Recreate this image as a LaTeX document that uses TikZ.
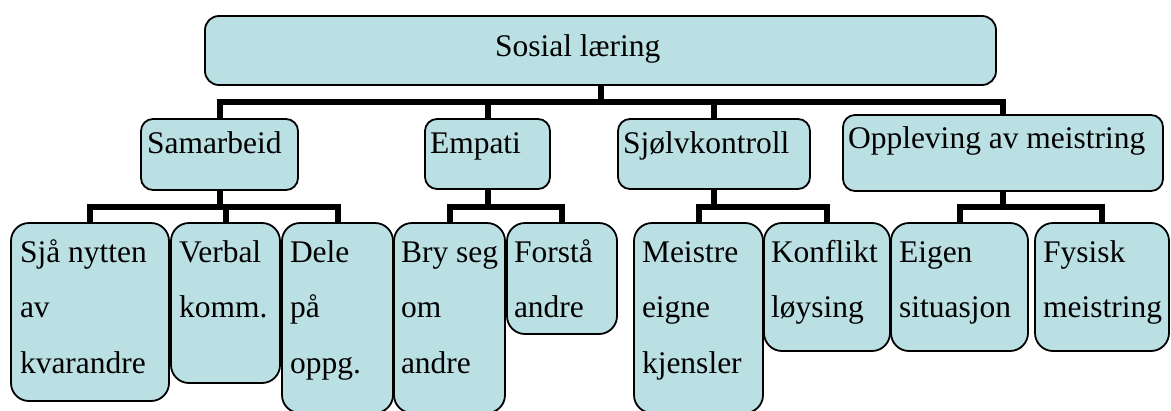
\documentclass[tikz,border=0pt]{standalone}
\usepackage{fontspec}
\setmainfont{Liberation Serif}
\definecolor{boxfill}{RGB}{187,224,227}
\newcommand\mlines[1]{\vtop{\baselineskip=55.5pt\lineskiplimit=-100pt #1}}
\tikzset{
  box/.style={draw=black, line width=1.8pt, fill=boxfill, rounded corners=#1,
    rectangle, anchor=north west, inner sep=0pt, outer sep=0pt},
  box/.default=12pt,
  txt/.style={anchor=base west, inner sep=0pt, outer sep=0pt, font=\fontsize{31.5}{55.5}\selectfont},
  link/.style={line width=6pt, draw=black}
}
\begin{document}
\begin{tikzpicture}[x=1pt,y=-1pt]
\useasboundingbox (0,0) rectangle (1171,410);
% bar levels
\coordinate (bar0) at (0,102);
\coordinate (bar1) at (0,207);
% boxes
\path
  (205,16)  node[box=14pt, minimum width=791pt, minimum height=69pt] (top) {}
  (141,119) node[box, minimum width=157pt, minimum height=71pt] (sam) {}
  (425,119) node[box, minimum width=125pt, minimum height=70pt] (emp) {}
  (618,119) node[box, minimum width=192pt, minimum height=70pt] (sjk) {}
  (843,115) node[box, minimum width=320pt, minimum height=76pt] (opp) {};
\path
  (11,223)   node[box=18pt, minimum width=158pt, minimum height=178pt] (sja) {}
  (171,223)  node[box=18pt, minimum width=109pt, minimum height=160pt] (ver) {}
  (282,223)  node[box=18pt, minimum width=111pt, minimum height=190pt] (del) {}
  (394,223)  node[box=18pt, minimum width=111pt, minimum height=190pt] (bry) {}
  (507,223)  node[box=18pt, minimum width=110pt, minimum height=111pt] (for) {}
  (634,223)  node[box=18pt, minimum width=129pt, minimum height=190pt] (mei) {}
  (764,223)  node[box=18pt, minimum width=126pt, minimum height=128pt] (kon) {}
  (891,223)  node[box=18pt, minimum width=137pt, minimum height=128pt] (eig) {}
  (1035,223) node[box=18pt, minimum width=134pt, minimum height=128pt] (fys) {};
% connectors
\draw[link] (top.south) -- (top.south |- bar0) -| (sam.north);
\draw[link] (top.south) -- (top.south |- bar0) -| (emp.north);
\draw[link] (top.south) -- (top.south |- bar0) -| (sjk.north);
\draw[link] (top.south) -- (top.south |- bar0) -| (opp.north);
\draw[link] (sam.south) -- (sam.south |- bar1) -| (sja.north);
\draw[link] (sam.south) -- (sam.south |- bar1) -| (ver.north);
\draw[link] (sam.south) -- (sam.south |- bar1) -| (del.north);
\draw[link] (emp.south) -- (emp.south |- bar1) -| (bry.north);
\draw[link] (emp.south) -- (emp.south |- bar1) -| (for.north);
\draw[link] (sjk.south) -- (sjk.south |- bar1) -| (mei.north);
\draw[link] (sjk.south) -- (sjk.south |- bar1) -| (kon.north);
\draw[link] (opp.south) -- (opp.south |- bar1) -| (eig.north);
\draw[link] (opp.south) -- (opp.south |- bar1) -| (fys.north);
% texts
\node[txt] (t-top) at (495,56) {Sosial læring};
\node[txt] (t-sam) at (147,153) {Samarbeid};
\node[txt] (t-emp) at (430,153) {Empati};
\node[txt] (t-sjk) at (623,153) {Sjølvkontroll};
\node[txt] (t-opp) at (848,148) {Oppleving av meistring};
\node[txt] (t-sja) at (20,262)  {\mlines{\hbox{Sjå nytten}\hbox{av}\hbox{kvarandre}}};
\node[txt] (t-ver) at (179,262) {\mlines{\hbox{Verbal}\hbox{komm.}}};
\node[txt] (t-del) at (290,262) {\mlines{\hbox{Dele}\hbox{på}\hbox{oppg.}}};
\node[txt] (t-bry) at (401,262) {\mlines{\hbox{Bry seg}\hbox{om}\hbox{andre}}};
\node[txt] (t-for) at (514,262) {\mlines{\hbox{Forstå}\hbox{andre}}};
\node[txt] (t-mei) at (642,262) {\mlines{\hbox{Meistre}\hbox{eigne}\hbox{kjensler}}};
\node[txt] (t-kon) at (771,262) {\mlines{\hbox{Konflikt}\hbox{løysing}}};
\node[txt] (t-eig) at (899,262) {\mlines{\hbox{Eigen}\hbox{situasjon}}};
\node[txt] (t-fys) at (1043,262) {\mlines{\hbox{Fysisk}\hbox{meistring}}};
\end{tikzpicture}
\end{document}
